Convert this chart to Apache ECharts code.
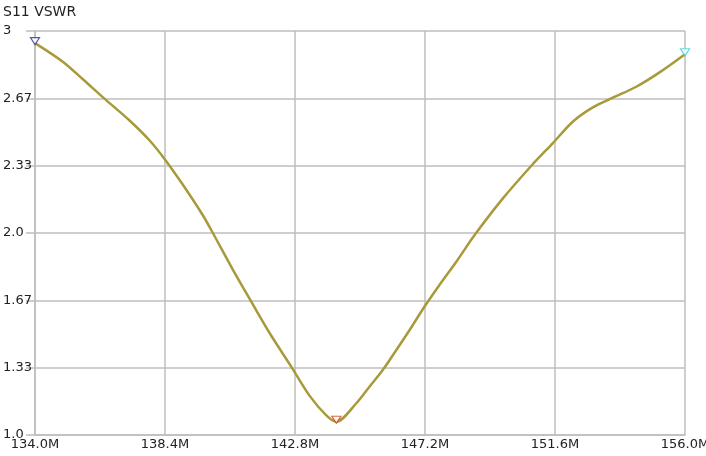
<!DOCTYPE html>
<html>
<head>
<meta charset="utf-8">
<script src="https://cdn.jsdelivr.net/npm/echarts@6/dist/echarts.min.js"></script>
<style>
  html, body { margin: 0; padding: 0; background: #fff; }
  #chart { width: 706px; height: 456px; }
</style>
</head>
<body>
<div id="chart"></div>
<script>
// S11 VSWR sweep, frequency in MHz
const freqMHz = [134.0, 134.94, 135.62, 136.35, 137.2, 137.88, 138.41, 139.0, 139.68, 140.02,
  140.69, 141.32, 141.94, 142.73, 143.29, 143.86, 144.2, 144.87, 145.32, 145.77,
  146.23, 146.68, 147.18, 147.69, 148.26, 148.88, 149.83, 150.8, 151.52, 152.2,
  152.88, 153.56, 154.35, 155.14, 156.0];
const vswr = [2.94, 2.848, 2.761, 2.665, 2.557, 2.458, 2.362, 2.24, 2.088, 2.0,
  1.82, 1.66, 1.505, 1.325, 1.195, 1.097, 1.066, 1.156, 1.239, 1.322,
  1.421, 1.52, 1.635, 1.743, 1.858, 1.99, 2.17, 2.333, 2.444, 2.551,
  2.622, 2.67, 2.724, 2.795, 2.885];

// markers: start, minimum, stop
const markerIdx = [0, 16, 34];
const markerColors = ['#2a2a9c', '#d8401c', '#3fd2dc'];

// axis ticks
const xTickValues = [134.0, 138.4, 142.8, 147.2, 151.6, 156.0];
const xTickLabels = ['134.0M', '138.4M', '142.8M', '147.2M', '151.6M', '156.0M'];
const yTickValues = [1, 4 / 3, 5 / 3, 2, 7 / 3, 8 / 3, 3];
const yTickLabels = ['1.0', '1.33', '1.67', '2.0', '2.33', '2.67', '3'];

const gridColor = '#bebebe';
const font = 'DejaVu Sans, Verdana, sans-serif';

const chart = echarts.init(document.getElementById('chart'));

const labelFor = (values, labels) => v => {
  const i = values.findIndex(t => Math.abs(t - v) < 1e-6);
  return i >= 0 ? labels[i] : '';
};

chart.setOption({
  animation: false,
  title: {
    text: 'S11 VSWR',
    left: 3,
    top: 5,
    padding: 0,
    textStyle: { fontFamily: font, fontSize: 14, fontWeight: 'normal', color: '#222' }
  },
  grid: { left: 35, right: 21, top: 31, bottom: 21, outerBoundsMode: 'none' },
  xAxis: {
    type: 'value',
    min: 134,
    max: 156,
    axisLine: { show: true, lineStyle: { color: gridColor, width: 1.5 } },
    axisTick: { show: false, customValues: xTickValues },
    splitLine: { show: true, lineStyle: { color: gridColor, width: 1.5 } },
    axisLabel: {
      customValues: xTickValues,
      margin: 3,
      fontFamily: font,
      fontSize: 13,
      color: '#222',
      formatter: labelFor(xTickValues, xTickLabels)
    }
  },
  yAxis: {
    type: 'value',
    min: 1,
    max: 3,
    axisLine: { show: true, lineStyle: { color: gridColor, width: 1.5 } },
    axisTick: { show: true, length: 9, customValues: yTickValues, lineStyle: { color: gridColor, width: 1.5 } },
    splitLine: { show: true, lineStyle: { color: gridColor, width: 1.5 } },
    axisLabel: {
      customValues: yTickValues,
      align: 'left',
      margin: 32,
      fontFamily: font,
      fontSize: 13,
      color: '#222',
      formatter: labelFor(yTickValues, yTickLabels)
    }
  },
  series: [
    {
      type: 'line',
      data: freqMHz.map((f, i) => [f, vswr[i]]),
      showSymbol: false,
      smooth: 0.3,
      lineStyle: { color: '#a89a3a', width: 2.5 },
      z: 2
    },
    {
      type: 'scatter',
      data: markerIdx.map((k, i) => ({
        value: [freqMHz[k], vswr[k]],
        itemStyle: { borderColor: markerColors[i] }
      })),
      symbol: 'triangle',
      symbolRotate: 180,
      symbolSize: [9, 7],
      symbolOffset: [0, -2],
      itemStyle: { color: '#fff', borderWidth: 1.2 },
      z: 3
    }
  ]
});
</script>
</body>
</html>
